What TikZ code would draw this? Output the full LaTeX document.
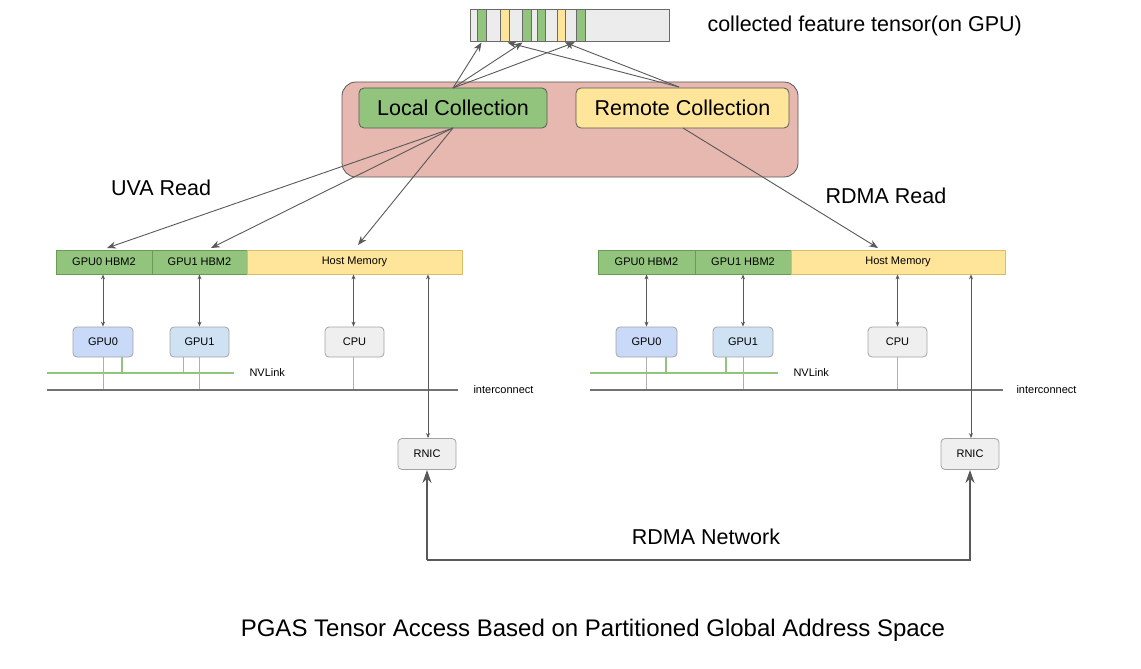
\documentclass[tikz,border=0pt]{standalone}
\usepackage{fontspec}
\setmainfont{Liberation Sans}
\usetikzlibrary{arrows.meta}
\definecolor{gfill}{HTML}{93C47D}
\definecolor{gline}{HTML}{6A9A55}
\definecolor{yfill}{HTML}{FFE599}
\definecolor{yline}{HTML}{D9BE6A}
\definecolor{pfill}{HTML}{E6B8AF}
\definecolor{bfill0}{HTML}{C9DAF8}
\definecolor{bfill1}{HTML}{CFE2F3}
\definecolor{grayfill}{HTML}{EFEFEF}
\definecolor{tfill}{HTML}{ECECEC}
\definecolor{darkl}{HTML}{595959}
\definecolor{midl}{HTML}{8C8C8C}
\definecolor{nvl}{HTML}{93C47D}
\tikzset{
  x=1pt, y=-1pt,
  big/.style={font=\fontsize{21.5}{24}\selectfont},
  small/.style={font=\fontsize{11}{13}\selectfont},
  coll/.style={draw=darkl, line width=0.8pt, rounded corners=5pt, big, inner sep=0pt, minimum height=40pt},
  slot/.style={draw=darkl!90, line width=1pt, inner sep=0pt, minimum height=32pt},
  memg/.style={draw=gline, fill=gfill, line width=0.8pt, small, inner sep=0pt, minimum height=24pt},
  memy/.style={draw=yline, fill=yfill, line width=0.8pt, small, inner sep=0pt, minimum height=24pt},
  chip/.style={draw=midl!80, line width=0.8pt, rounded corners=4pt, small, inner sep=0pt, minimum height=30pt},
  arr/.style={draw=darkl, line width=0.9pt, -{Stealth[length=9pt,width=7pt]}},
  darr/.style={draw=darkl, line width=0.8pt, {Stealth[length=5pt,width=4pt]}-{Stealth[length=5pt,width=4pt]}},
  thin/.style={draw=midl!70, line width=0.7pt},
  nv/.style={draw=nvl, line width=1.8pt},
  ic/.style={draw=darkl!85, line width=2pt},
}
\begin{document}
\begin{tikzpicture}
\useasboundingbox (0,0) rectangle (1141,669);
% tensor
\node[slot, fill=tfill, minimum width=199pt] (tensor) at (569.5,26) {};
\node[slot, fill=gfill, minimum width=9pt] (s1) at (481.5,26) {};
\node[slot, fill=yfill, minimum width=9pt] (s2) at (504.5,26) {};
\node[slot, fill=gfill, minimum width=9pt] (s3) at (526.5,26) {};
\node[slot, fill=gfill, minimum width=8pt] (s4) at (541,26) {};
\node[slot, fill=yfill, minimum width=8pt] (s5) at (561,26) {};
\node[slot, fill=gfill, minimum width=9pt] (s6) at (580.5,26) {};
\node[big, anchor=west] (tlabel) at (704,26) {collected feature tensor(on GPU)};
% collection container
\node[draw=darkl, fill=pfill, line width=0.8pt, rounded corners=14pt, minimum width=456pt, minimum height=95pt, inner sep=0pt] (pbox) at (570,129.5) {};
\node[coll, fill=gfill, minimum width=188pt] (local) at (453,108) {Local Collection};
\node[coll, fill=yfill, minimum width=213pt] (remote) at (682.5,108) {Remote Collection};
\coordinate (lt) at (453,88);
\coordinate (rt) at (679,87);
\coordinate (lb) at (453,128);
\coordinate (rb) at (683,128);
\draw[arr] (lt) -- (s1.south);
\draw[arr] (lt) -- ([xshift=-4pt]s3.south);
\draw[arr] (lt) -- ([xshift=-6pt]s6.south);
\draw[arr] (rt) -- ([xshift=3pt]s2.south);
\draw[arr] (rt) -- ([xshift=4pt]s5.south);
% labels
\node[big] (uva) at (161,188) {UVA Read};
\node[big] (rdmar) at (886,196) {RDMA Read};
% left machine
\node[memg, minimum width=96pt] (m0) at (104,262) {GPU0 HBM2};
\node[memg, minimum width=95pt] (m1) at (199.5,262) {GPU1 HBM2};
\node[memy, minimum width=215pt] (mh) at (354.5,262) {Host Memory};
\node[chip, fill=bfill0, minimum width=60pt] (g0) at (103,342) {GPU0};
\node[chip, fill=bfill1, minimum width=59pt] (g1) at (199.5,342) {GPU1};
\node[chip, fill=grayfill, minimum width=59pt] (c0) at (354.5,342) {CPU};
\node[chip, fill=grayfill, minimum width=58pt, minimum height=31pt] (r0) at (427,454) {RNIC};
\draw[darr] (g0.north) -- (g0.north |- m0.south);
\draw[darr] (g1.north) -- (g1.north |- m1.south);
\draw[darr] ([xshift=-1pt]c0.north) -- ([xshift=-1pt]c0.north |- mh.south);
\coordinate (nvL0) at (47,373);
\coordinate (nvL1) at (234,373);
\coordinate (icL0) at (47,390);
\coordinate (icL1) at (458,390);
\draw[thin] (g0.south) -- (g0.south |- icL0);
\draw[thin] (g1.south) -- (g1.south |- icL0);
\draw[thin] ([xshift=-1pt]c0.south) -- ([xshift=-1pt]c0.south |- icL0);
\draw[nv] (nvL0) -- (nvL1);
\draw[nv] ([xshift=19pt]g0.south) -- ([xshift=19pt]g0.south |- nvL0);
\draw[nv] ([xshift=-16pt]g1.south) -- ([xshift=-16pt]g1.south |- nvL0);
\draw[ic] (icL0) -- (icL1);
\node[small, anchor=west] (nvlabL) at (246,373) {NVLink};
\node[small, anchor=west] (iclabL) at (470,390) {interconnect};
\draw[darr] ([xshift=1pt]r0.north) -- ([xshift=1pt]r0.north |- mh.south);
% right machine
\node[memg, minimum width=97pt] (n0) at (646.5,262) {GPU0 HBM2};
\node[memg, minimum width=96pt] (n1) at (743,262) {GPU1 HBM2};
\node[memy, minimum width=214pt] (nh) at (898,262) {Host Memory};
\node[chip, fill=bfill0, minimum width=61pt] (h0) at (646.5,342) {GPU0};
\node[chip, fill=bfill1, minimum width=60pt] (h1) at (743,342) {GPU1};
\node[chip, fill=grayfill, minimum width=59pt] (c1) at (897.5,342) {CPU};
\node[chip, fill=grayfill, minimum width=58pt, minimum height=31pt] (r1) at (970,454) {RNIC};
\draw[darr] (h0.north) -- (h0.north |- n0.south);
\draw[darr] (h1.north) -- (h1.north |- n1.south);
\draw[darr] (c1.north) -- (c1.north |- nh.south);
\coordinate (nvR0) at (590,373);
\coordinate (nvR1) at (778,373);
\coordinate (icR0) at (590,390);
\coordinate (icR1) at (1003,390);
\draw[thin] (h0.south) -- (h0.south |- icR0);
\draw[thin] (h1.south) -- (h1.south |- icR0);
\draw[thin] (c1.south) -- (c1.south |- icR0);
\draw[nv] (nvR0) -- (nvR1);
\draw[nv] ([xshift=19.5pt]h0.south) -- ([xshift=19.5pt]h0.south |- nvR0);
\draw[nv] ([xshift=-17pt]h1.south) -- ([xshift=-17pt]h1.south |- nvR0);
\draw[ic] (icR0) -- (icR1);
\node[small, anchor=west] (nvlabR) at (790,373) {NVLink};
\node[small, anchor=west] (iclabR) at (1013,390) {interconnect};
\draw[darr] ([xshift=1pt]r1.north) -- ([xshift=1pt]r1.north |- nh.south);
% reads
\draw[arr] (lb) -- (107,248);
\draw[arr] (lb) -- (211,248);
\draw[arr] (lb) -- (358,245);
\draw[arr] (rb) -- (878,248);
% RDMA network
\coordinate (netL) at (427,560);
\coordinate (netR) at (970,560);
\draw[draw=darkl, line width=2pt, -{Stealth[length=13pt,width=9pt]}] (netL) -- (netR) -- (r1.south);
\draw[draw=darkl, line width=2pt, -{Stealth[length=13pt,width=9pt]}] (netL) -- (r0.south);
\node[big] (netlab) at (706,537) {RDMA Network};
% title
\node[font=\fontsize{24}{28}\selectfont] (title) at (593,630) {PGAS Tensor Access Based on Partitioned Global Address Space};
\end{tikzpicture}
\end{document}
